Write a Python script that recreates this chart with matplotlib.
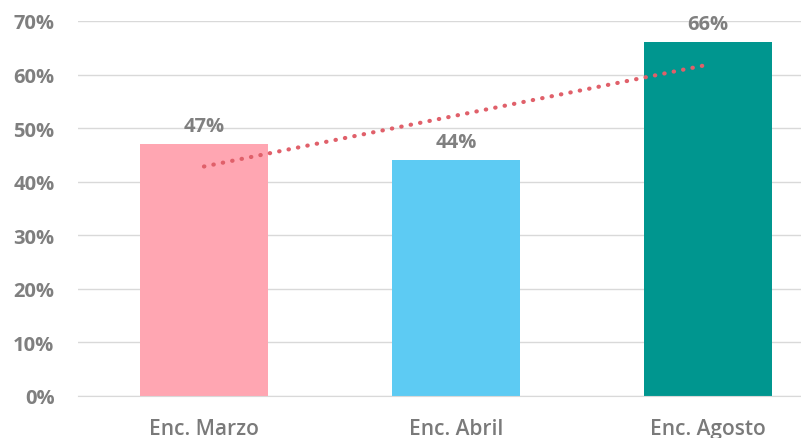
import numpy as np
import matplotlib.pyplot as plt
from matplotlib.ticker import PercentFormatter

# Data
categories = ['Enc. Marzo', 'Enc. Abril', 'Enc. Agosto']
values = [0.47, 0.44, 0.66]
bar_colors = ['#FFA6B2', '#5DCBF3', '#00968F']

plt.rcParams['font.family'] = ['Open Sans', 'DejaVu Sans']

fig = plt.figure(figsize=(8.01, 4.39), dpi=100)
ax = fig.add_axes([0.0974, 0.0957, 0.9026, 0.8543])

x = np.arange(len(categories))
ax.bar(x, values, width=0.51, color=bar_colors, zorder=2)

# value labels
for xi, v in zip(x, values):
    ax.text(xi, v + 0.015, f'{v:.0%}', ha='center', va='bottom',
            fontsize=14.5, fontweight='bold', color='#808080')

# linear trend line
slope, intercept = np.polyfit(x, values, 1)
ax.plot(x, slope * x + intercept, linestyle=(0, (0.1, 2.2)), color='#E0606A',
        linewidth=3, dash_capstyle='round', zorder=3)

ax.set_ylim(0, 0.7)
ax.set_xlim(-0.5, 2.37)
ax.set_yticks(np.arange(0, 0.71, 0.1))
ax.yaxis.set_major_formatter(PercentFormatter(1.0, decimals=0))
ax.set_xticks(x)
ax.set_xticklabels(categories)

ax.grid(axis='y', color='#D9D9D9', linewidth=1, zorder=0)
for side in ['top', 'right', 'left']:
    ax.spines[side].set_visible(False)
ax.spines['bottom'].set_color('#D9D9D9')

ax.tick_params(axis='y', length=0, pad=17, labelsize=14.5, labelcolor='#7F7F7F')
ax.tick_params(axis='x', length=0, pad=16, labelsize=15, labelcolor='#7A7A7A')
for lbl in ax.get_yticklabels():
    lbl.set_fontweight('bold')
for lbl in ax.get_xticklabels():
    lbl.set_fontweight('semibold')

plt.savefig('out.png', dpi=100)
